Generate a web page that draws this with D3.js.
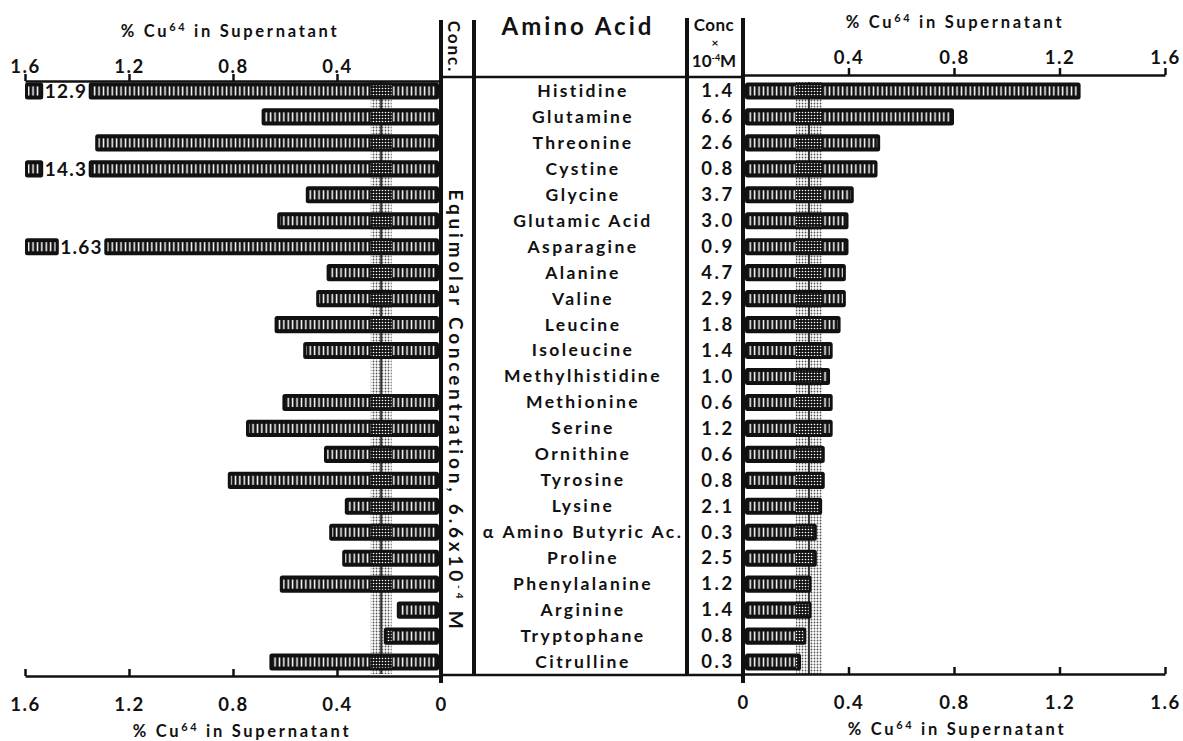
<!DOCTYPE html>
<html>
<head>
<meta charset="utf-8">
<script src="https://cdn.jsdelivr.net/npm/d3@7"></script>
<style>
  body { margin: 0; background: #fff; }
  text { font-family: Lato, "DejaVu Sans", sans-serif; font-weight: bold; fill: #111; }
</style>
</head>
<body>
<div id="chart"></div>
<script>
// ~~~~~~~~ DATA (top to bottom)
const acids = ["Histidine", "Glutamine", "Threonine", "Cystine", "Glycine", "Glutamic Acid",
  "Asparagine", "Alanine", "Valine", "Leucine", "Isoleucine", "Methylhistidine", "Methionine",
  "Serine", "Ornithine", "Tyrosine", "Lysine", "\u03b1 Amino Butyric Ac.", "Proline",
  "Phenylalanine", "Arginine", "Tryptophane", "Citrulline"];
// physiological concentration x 10^-4 M
const conc = ["1.4", "6.6", "2.6", "0.8", "3.7", "3.0", "0.9", "4.7", "2.9", "1.8", "1.4", "1.0",
  "0.6", "1.2", "0.6", "0.8", "2.1", "0.3", "2.5", "1.2", "1.4", "0.8", "0.3"];
// % Cu64 in supernatant, equimolar concentration (left half)
const equimolar = [12.9, 0.69, 1.33, 14.3, 0.52, 0.63, 1.63, 0.44, 0.48, 0.64, 0.53, null, 0.61,
  0.75, 0.45, 0.82, 0.37, 0.43, 0.38, 0.62, 0.17, 0.22, 0.66];
// % Cu64 in supernatant, physiological concentration (right half)
const physiol = [1.28, 0.80, 0.52, 0.51, 0.42, 0.40, 0.40, 0.39, 0.39, 0.37, 0.34, 0.33, 0.34,
  0.34, 0.31, 0.31, 0.30, 0.28, 0.28, 0.26, 0.26, 0.24, 0.22];
// off-scale bars are drawn broken, with a short stub at the end of the axis
const brokenNames = ["Histidine", "Cystine", "Asparagine"];
const brokenStub = [1.53, 1.53, 1.47];
// control band (low, middle, high)
const controlLeft = [0.19, 0.23, 0.27];
const controlRight = [0.20, 0.25, 0.30];
const tickVals = [0, 0.4, 0.8, 1.2, 1.6];
const tickText = ["0", "0.4", "0.8", "1.2", "1.6"];

// ~~~~~~~~ VARIABLES
const width = 1183, height = 741;
const ink = "#111";

const svg = d3.select("#chart").append("svg")
  .attr("width", width)
  .attr("height", height);

const xL = d3.scaleLinear().domain([0, 1.6]).range([441, 25]);
const xR = d3.scaleLinear().domain([0, 1.6]).range([743, 1165]);
const y = d3.scaleBand().domain(acids).range([78, 675]).paddingInner(0.34).paddingOuter(0.17);
const bh = y.bandwidth();

// ~~~~~~~~ PATTERNS
const defs = svg.append("defs");
const slit = defs.append("pattern").attr("id", "slits")
  .attr("patternUnits", "userSpaceOnUse").attr("width", 4.4).attr("height", 40);
slit.append("rect").attr("width", 4.4).attr("height", 40).attr("fill", ink);
slit.append("rect").attr("x", 1.5).attr("width", 1.5).attr("height", 40).attr("fill", "#fff");

const dots = defs.append("pattern").attr("id", "dots")
  .attr("patternUnits", "userSpaceOnUse").attr("width", 3).attr("height", 3);
dots.append("rect").attr("width", 3).attr("height", 3).attr("fill", "#fff");
dots.append("circle").attr("cx", 1.5).attr("cy", 1.5).attr("r", 0.9).attr("fill", "#555");

const speck = defs.append("pattern").attr("id", "speck")
  .attr("patternUnits", "userSpaceOnUse").attr("width", 3).attr("height", 3);
speck.append("rect").attr("width", 3).attr("height", 3).attr("fill", ink);
speck.append("circle").attr("cx", 1.5).attr("cy", 1.5).attr("r", 0.8).attr("fill", "#fff");

// ~~~~~~~~ CONTROL BANDS
function band(scale, c) {
  const x0 = Math.min(scale(c[0]), scale(c[2]));
  const x1 = Math.max(scale(c[0]), scale(c[2]));
  svg.append("rect").attr("x", x0).attr("width", x1 - x0)
    .attr("y", 82).attr("height", 592).attr("fill", "url(#dots)");
  svg.append("line").attr("x1", scale(c[1])).attr("x2", scale(c[1]))
    .attr("y1", 82).attr("y2", 674).attr("stroke", "#333").attr("stroke-width", 2);
  return [x0, x1];
}
const bandL = band(xL, controlLeft);
const bandR = band(xR, controlRight);

// ~~~~~~~~ BARS
const gBars = svg.append("g");
function drawBar(xa, xb, top, bandX) {
  gBars.append("rect").attr("x", xa).attr("y", top).attr("width", xb - xa).attr("height", bh)
    .attr("rx", 2.5).attr("fill", ink);
  gBars.append("rect").attr("x", xa + 3).attr("y", top + 4).attr("width", Math.max(0, xb - xa - 6))
    .attr("height", bh - 8).attr("fill", "url(#slits)");
  const s0 = Math.max(xa + 3, bandX[0]), s1 = Math.min(xb - 3, bandX[1]);
  if (s1 > s0) {
    gBars.append("rect").attr("x", s0).attr("y", top + 3).attr("width", s1 - s0)
      .attr("height", bh - 6).attr("fill", "url(#speck)");
  }
}

acids.forEach(function(name, i) {
  const top = y(name);
  const v = equimolar[i];
  if (v != null) {
    const b = brokenNames.indexOf(name);
    if (v > 1.6 && b >= 0) {
      const stubEnd = brokenStub[b];
      drawBar(xL(1.6), xL(stubEnd), top, bandL);
      drawBar(xL(stubEnd - 0.175), xL(0) - 2, top, bandL);
      svg.append("text")
        .attr("x", (xL(stubEnd) + xL(stubEnd - 0.175)) / 2)
        .attr("y", top + bh / 2).attr("dy", "0.36em")
        .attr("text-anchor", "middle").attr("font-size", 19).attr("letter-spacing", 1.2)
        .text(v);
    } else {
      drawBar(xL(v), xL(0) - 2, top, bandL);
    }
  }
  drawBar(xR(0) + 2, xR(physiol[i]), top, bandR);
});

// ~~~~~~~~ TABLE TEXT
svg.append("g").selectAll("text").data(acids).enter().append("text")
  .attr("x", 583).attr("y", d => y(d) + bh / 2).attr("dy", "0.34em")
  .attr("text-anchor", "middle").attr("font-size", 17.5).attr("letter-spacing", 2.4)
  .text(d => d);

svg.append("g").selectAll("text").data(conc).enter().append("text")
  .attr("x", 718).attr("y", (d, i) => y(acids[i]) + bh / 2).attr("dy", "0.34em")
  .attr("text-anchor", "middle").attr("font-size", 18.5).attr("letter-spacing", 2.5)
  .text(d => d);

// ~~~~~~~~ AXES
function styleAxis(g) {
  g.attr("color", ink).attr("font-size", 18.5);
  g.selectAll("path, line").attr("stroke-width", 2.5);
  g.selectAll("text").attr("letter-spacing", 1.5);
}
const fmt = d => tickText[tickVals.indexOf(d)];

svg.append("g").attr("transform", "translate(0,81)")
  .call(d3.axisTop(xL).tickValues(tickVals.slice(1)).tickFormat(fmt).tickSize(7).tickSizeOuter(0).tickPadding(1))
  .call(styleAxis);
svg.append("g").attr("transform", "translate(0,75)")
  .call(d3.axisTop(xR).tickValues(tickVals.slice(1)).tickFormat(fmt).tickSize(7).tickSizeOuter(0).tickPadding(4))
  .call(styleAxis);
svg.append("g").attr("transform", "translate(0,676)")
  .call(d3.axisBottom(xL).tickValues(tickVals).tickFormat(fmt).tickSize(-7).tickSizeOuter(0).tickPadding(22))
  .call(styleAxis);
svg.append("g").attr("transform", "translate(0,674)")
  .call(d3.axisBottom(xR).tickValues(tickVals).tickFormat(fmt).tickSize(-7).tickSizeOuter(0).tickPadding(22))
  .call(styleAxis);

// header and footer rules across the table
svg.append("line").attr("x1", xL(0)).attr("x2", xR(0)).attr("y1", 77).attr("y2", 77)
  .attr("stroke", ink).attr("stroke-width", 2.5);
svg.append("line").attr("x1", xL(0)).attr("x2", xR(0)).attr("y1", 675).attr("y2", 675)
  .attr("stroke", ink).attr("stroke-width", 2.5);

// column rules
[[xL(0), 20, 683], [474, 20, 676], [687, 18, 676], [xR(0), 18, 683]].forEach(function(r) {
  svg.append("line").attr("x1", r[0]).attr("x2", r[0]).attr("y1", r[1]).attr("y2", r[2])
    .attr("stroke", ink).attr("stroke-width", 4);
});

// ~~~~~~~~ TITLES
function cuTitle(x, yy) {
  const t = svg.append("text").attr("x", x).attr("y", yy).attr("text-anchor", "middle")
    .attr("font-size", 16.5).attr("letter-spacing", 2.7);
  t.append("tspan").text("% Cu");
  t.append("tspan").attr("font-size", 11).attr("dy", -6).text("64");
  t.append("tspan").attr("dy", 6).text(" in Supernatant");
}
cuTitle(230, 37);
cuTitle(955, 28);
cuTitle(242, 737);
cuTitle(957, 735);

svg.append("text").attr("x", 578).attr("y", 35).attr("text-anchor", "middle")
  .attr("font-size", 24).attr("letter-spacing", 3).text("Amino Acid");

svg.append("text").attr("transform", "translate(454,47) rotate(90)")
  .attr("text-anchor", "middle").attr("dy", "0.35em")
  .attr("font-size", 17).attr("letter-spacing", 2).text("Conc.");

svg.append("text").attr("x", 714).attr("y", 31).attr("text-anchor", "middle")
  .attr("font-size", 17).attr("letter-spacing", 0.5).text("Conc");
svg.append("text").attr("x", 715).attr("y", 47).attr("text-anchor", "middle")
  .attr("font-size", 12).text("\u00d7");
const tm = svg.append("text").attr("x", 714).attr("y", 67).attr("text-anchor", "middle")
  .attr("font-size", 17);
tm.append("tspan").text("10");
tm.append("tspan").attr("font-size", 9).attr("dy", -6).text("-4");
tm.append("tspan").attr("dy", 6).text("M");

const eq = svg.append("text").attr("transform", "translate(456,411) rotate(90)")
  .attr("text-anchor", "middle").attr("dy", "0.35em")
  .attr("font-size", 19).attr("letter-spacing", 3.8);
eq.append("tspan").text("Equimolar Concentration, 6.6x10");
eq.append("tspan").attr("font-size", 10).attr("dy", -7).text("-4");
eq.append("tspan").attr("dy", 7).text(" M");
</script>
</body>
</html>
